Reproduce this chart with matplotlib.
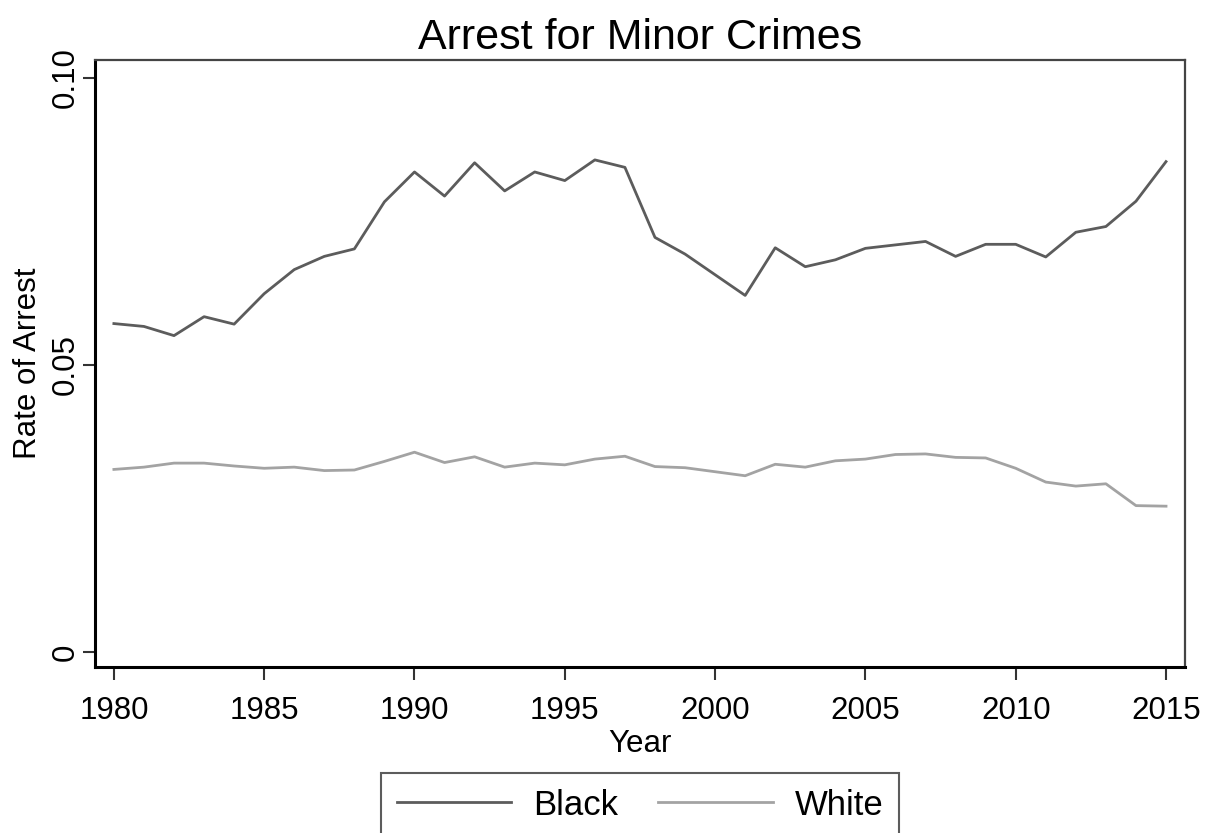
import numpy as np
import matplotlib
matplotlib.use('Agg')
import matplotlib.pyplot as plt

plt.rcParams['font.family'] = ['Liberation Sans', 'DejaVu Sans']

years = list(range(1980, 2016))
black = [0.0572, 0.0567, 0.0551, 0.0584, 0.0571, 0.0624, 0.0666, 0.0689, 0.0702, 0.0784,
         0.0836, 0.0794, 0.0852, 0.0803, 0.0836, 0.0821, 0.0857, 0.0844,
         0.0722, 0.0693, 0.0657, 0.0621, 0.0704, 0.0671, 0.0683, 0.0703, 0.0709, 0.0715,
         0.0689, 0.0710, 0.0710, 0.0688, 0.0731, 0.0741, 0.0785, 0.0854]
white = [0.0318, 0.0322, 0.0329, 0.0329, 0.0324, 0.0320, 0.0322, 0.0316, 0.0317, 0.0332,
         0.0348, 0.0330, 0.0340, 0.0322, 0.0329, 0.0326, 0.0336, 0.0341,
         0.0323, 0.0321, 0.0314, 0.0307, 0.0327, 0.0322, 0.0333, 0.0336, 0.0344, 0.0345,
         0.0339, 0.0338, 0.0320, 0.0296, 0.0289, 0.0293, 0.0255, 0.0254]
xticks = [1980, 1985, 1990, 1995, 2000, 2005, 2010, 2015]
yticks = [0, 0.05, 0.10]
ytick_labels = ['0', '0.05', '0.10']

fig = plt.figure(figsize=(12.11, 8.33), dpi=100)
ax = fig.add_axes([0.0784, 0.1993, 0.9001, 0.7287])

ax.plot(years, black, color='#5c5c5c', lw=2.0, label='Black')
ax.plot(years, white, color='#a3a3a3', lw=2.0, label='White')

ax.set_xlim(1979.37, 2015.63)
ax.set_ylim(-0.0026, 0.1031)
ax.set_xticks(xticks)
ax.set_yticks(yticks)
ax.set_yticklabels(ytick_labels, rotation=90, va='center')
ax.tick_params(axis='both', labelsize=22.5, length=9, width=1.5, color='#333333')
ax.tick_params(axis='x', pad=12)
ax.tick_params(axis='y', pad=1)

for side in ['left', 'bottom']:
    ax.spines[side].set_linewidth(2.2)
    ax.spines[side].set_color('black')
for side in ['top', 'right']:
    ax.spines[side].set_linewidth(1.6)
    ax.spines[side].set_color('#444444')

ax.set_title('Arrest for Minor Crimes', fontsize=31, pad=8)
ax.set_xlabel('Year', fontsize=22.5, labelpad=2)
ax.set_ylabel('Rate of Arrest', fontsize=22.5, labelpad=6)

leg = ax.legend(loc='upper center', bbox_to_anchor=(0.5, -0.1746), ncol=2, fontsize=25,
                frameon=True, fancybox=False, edgecolor='#333333', handlelength=3.3,
                columnspacing=1.15, borderpad=0.45, handletextpad=0.63, borderaxespad=0)
leg.get_frame().set_linewidth(1.5)

fig.savefig('out.png', dpi=100, facecolor='white')
